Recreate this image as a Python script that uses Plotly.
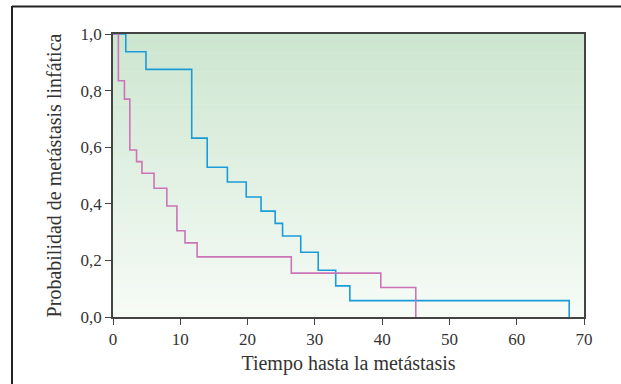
import plotly.graph_objects as go

# Kaplan-Meier style step curves (time of drop, survival after drop)
blue_t = [0, 1.9, 4.9, 11.7, 14.0, 17.0, 19.8, 22.0, 24.1, 25.2, 27.9, 30.5, 33.1, 35.2, 67.8]
blue_s = [1.0, 0.9375, 0.875, 0.632, 0.529, 0.477, 0.424, 0.374, 0.331, 0.286, 0.229, 0.165, 0.110, 0.058, 0.0]

pink_t = [0, 0.8, 1.7, 2.5, 3.5, 4.3, 6.1, 8.0, 9.5, 10.7, 12.5, 26.5, 39.8, 45.0]
pink_s = [1.0, 0.835, 0.770, 0.590, 0.549, 0.508, 0.455, 0.392, 0.305, 0.262, 0.2125, 0.155, 0.104, 0.0]

x_ticks = [0, 10, 20, 30, 40, 50, 60, 70]
y_ticks = [0.0, 0.2, 0.4, 0.6, 0.8, 1.0]

W, H = 621, 384
ML, MR, MT, MB = 113, 37, 34, 67

fig = go.Figure()
fig.add_trace(go.Scatter(x=blue_t, y=blue_s, mode="lines", line=dict(shape="hv", color="#1a9cd8", width=1.6),
                         showlegend=False, hoverinfo="skip"))
fig.add_trace(go.Scatter(x=pink_t, y=pink_s, mode="lines", line=dict(shape="hv", color="#cc74b8", width=1.6),
                         showlegend=False, hoverinfo="skip"))

# vertical gradient background
shapes = []
n = 60
top = (205, 230, 208)
bot = (246, 251, 246)
for i in range(n):
    f = i / (n - 1)
    c = tuple(round(bot[k] + (top[k] - bot[k]) * f) for k in range(3))
    shapes.append(dict(type="rect", xref="x domain", yref="y domain",
                       x0=0, x1=1, y0=i / n, y1=(i + 1) / n + 0.002,
                       fillcolor="rgb(%d,%d,%d)" % c, line=dict(width=0), layer="below"))

# outer frame (left and top edges)
pw = W - ML - MR
ph = H - MT - MB
def px_x(p): return (p - ML) / pw
def px_y(p): return (H - MB - p) / ph
shapes.append(dict(type="line", xref="paper", yref="paper", x0=px_x(12), x1=px_x(12), y0=px_y(390), y1=px_y(6),
                   line=dict(color="#222222", width=2)))
shapes.append(dict(type="line", xref="paper", yref="paper", x0=px_x(12), x1=px_x(630), y0=px_y(6.5), y1=px_y(6.5),
                   line=dict(color="#222222", width=2)))

font = "Liberation Serif, Times New Roman, serif"
fig.update_layout(
    width=W, height=H,
    margin=dict(l=ML, r=MR, t=MT, b=MB),
    paper_bgcolor="white", plot_bgcolor="white",
    separators=",.",
    shapes=shapes,
    font=dict(family=font, size=17, color="#333333"),
    xaxis=dict(range=[0, 70], tickvals=x_ticks, ticks="outside", ticklen=6, tickcolor="#444",
               showline=True, linecolor="#444", linewidth=1.5, mirror=True, showgrid=False, zeroline=False,
               title=dict(text="Tiempo hasta la metástasis", font=dict(size=20), standoff=8),
               tickfont=dict(size=17)),
    yaxis=dict(range=[0, 1.0], tickvals=y_ticks, tickformat=".1f", ticks="outside", ticklen=6, tickcolor="#444",
               showline=True, linecolor="#444", linewidth=1.5, mirror=True, showgrid=False, zeroline=False,
               title=dict(text="Probabilidad de metástasis linfática", font=dict(size=20), standoff=14),
               tickfont=dict(size=17)),
)

fig.write_html("out.html", config={"displayModeBar": False},
               post_script="document.body.style.margin='0';document.body.style.overflow='hidden';")
